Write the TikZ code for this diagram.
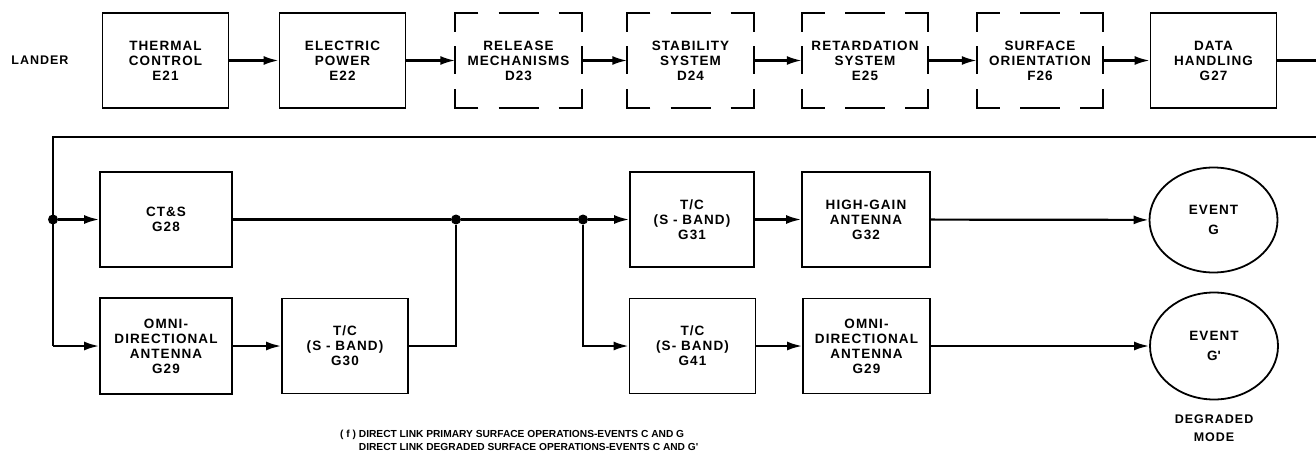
\documentclass[tikz,border=0pt]{standalone}
\usepackage{fontspec}
\setmainfont{Liberation Sans}
\newfontfamily\labfont[LetterSpace=8]{Liberation Sans}
\newfontfamily\capfont{Liberation Sans}
\usetikzlibrary{arrows.meta,shapes.geometric}
\tikzset{
  lbl/.style={font=\labfont\bfseries\fontsize{13.5}{15}\selectfont, align=center},
  blk/.style={lbl, draw, line width=1.8pt, minimum width=126pt, minimum height=95pt, inner sep=0pt},
  dblk/.style={lbl, minimum width=126pt, minimum height=95pt, inner sep=0pt},
  conn/.style={line width=2.2pt},
  arr/.style={conn, -{Latex[length=15pt,width=9pt]}},
  jdot/.style={circle, fill, inner sep=0pt, minimum size=10pt},
  evt/.style={lbl, font=\labfont\bfseries\fontsize{13.5}{20}\selectfont, draw, ellipse, line width=1.8pt, minimum width=128pt, minimum height=105pt, inner sep=0pt},
  dframe/.style={line width=1.8pt},
  captxt/.style={font=\capfont\bfseries\fontsize{10.2}{13.5}\selectfont, anchor=base west, inner sep=0pt}
}
\newcommand\dashedframe[1]{%
  \draw[dframe] ([xshift=23pt]#1.north west) -- (#1.north west) -- ([yshift=-19pt]#1.north west);
  \draw[dframe] ([xshift=-23pt]#1.north east) -- (#1.north east) -- ([yshift=-19pt]#1.north east);
  \draw[dframe] ([xshift=23pt]#1.south west) -- (#1.south west) -- ([yshift=19pt]#1.south west);
  \draw[dframe] ([xshift=-23pt]#1.south east) -- (#1.south east) -- ([yshift=19pt]#1.south east);
  \draw[dframe] ([xshift=-20pt]#1.north) -- ([xshift=20pt]#1.north);
  \draw[dframe] ([xshift=-20pt]#1.south) -- ([xshift=20pt]#1.south);
  \draw[dframe] ([yshift=14pt]#1.west) -- ([yshift=-14pt]#1.west);
  \draw[dframe] ([yshift=14pt]#1.east) -- ([yshift=-14pt]#1.east);
}
\begin{document}
\begin{tikzpicture}[x=1pt,y=-1pt]
\useasboundingbox (0,0) rectangle (1316,476);
% top row
\node[lbl, font=\labfont\bfseries\fontsize{12.5}{15}\selectfont, anchor=east] (lander) at (72,60.5) {LANDER};
\node[blk]  (E21) at (165.5,60.5) {THERMAL\\CONTROL\\E21};
\node[blk]  (E22) at (342.5,60.5) {ELECTRIC\\POWER\\E22};
\node[dblk] (D23) at (518.5,60.5) {RELEASE\\MECHANISMS\\D23};
\node[dblk] (D24) at (690.5,60.5) {STABILITY\\SYSTEM\\D24};
\node[dblk] (E25) at (865,60.5) {RETARDATION\\SYSTEM\\E25};
\node[dblk] (F26) at (1040,60.5) {SURFACE\\ORIENTATION\\F26};
\node[blk]  (G27) at (1213.5,60.5) {DATA\\HANDLING\\G27};
\dashedframe{D23}
\dashedframe{D24}
\dashedframe{E25}
\dashedframe{F26}
\draw[arr] (E21) -- (E22);
\draw[arr] (E22) -- (D23);
\draw[arr] (D23) -- (D24);
\draw[arr] (D24) -- (E25);
\draw[arr] (E25) -- (F26);
\draw[arr] (F26) -- (G27);
\coordinate (rt) at (1316,60.5);
\draw[conn] (G27) -- (rt);
% wrap line
\coordinate (rb) at (1316,137);
\coordinate (lb) at (53,137);
\coordinate (ll) at (53,346);
\draw[conn] (rb) -- (lb) -- (ll);
% second and third rows
\node[blk, minimum width=132pt] (CTS) at (166,219.5) {CT\&S\\G28};
\node[blk, minimum width=132pt, minimum height=96pt] (G29L) at (166,346) {OMNI-\\DIRECTIONAL\\ANTENNA\\G29};
\node[blk] (G30) at (345,346) {T/C\\(S - BAND)\\G30};
\node[blk, minimum width=124pt] (G31) at (692,219.5) {T/C\\(S - BAND)\\G31};
\node[blk, minimum width=128pt] (G32) at (866,219.5) {HIGH-GAIN\\ANTENNA\\G32};
\node[blk] (G41) at (692.5,346) {T/C\\(S- BAND)\\G41};
\node[blk, minimum width=127pt] (G29R) at (866.5,346) {OMNI-\\DIRECTIONAL\\ANTENNA\\G29};
\node[evt] (EG) at (1213.5,220) {EVENT\\G};
\node[evt, minimum height=107pt] (EGp) at (1214,346) {EVENT\\G\textquotesingle};
\node[lbl, font=\labfont\bfseries\fontsize{12.5}{18}\selectfont] (dm) at (1214,428) {DEGRADED\\MODE};
\node[jdot] (J0) at (53,219.5) {};
\node[jdot] (J1) at (456,219.5) {};
\node[jdot] (J2) at (583,219.5) {};
\draw[arr] (J0) -- (CTS);
\draw[arr] (ll) -- (G29L);
\draw[arr] (G29L) -- (G30);
\draw[conn] (CTS) -- (J1);
\draw[conn] (G30) -- (G30 -| J1) -- (J1);
\draw[conn] (J1) -- (J2);
\draw[arr] (J2) -- (G31);
\draw[arr] (J2) |- (G41);
\draw[arr] (G31) -- (G32);
\draw[arr] (G32) -- (EG);
\draw[arr] (G41) -- (G29R);
\draw[arr] (G29R) -- (EGp);
% caption
\node[captxt] (cap1) at (340,437) {( f )\ DIRECT LINK PRIMARY SURFACE OPERATIONS-EVENTS C AND G};
\node[captxt] (cap2) at (340,450) {\hphantom{( f )\ }DIRECT LINK DEGRADED SURFACE OPERATIONS-EVENTS C AND G\textquotesingle};
\end{tikzpicture}
\end{document}
